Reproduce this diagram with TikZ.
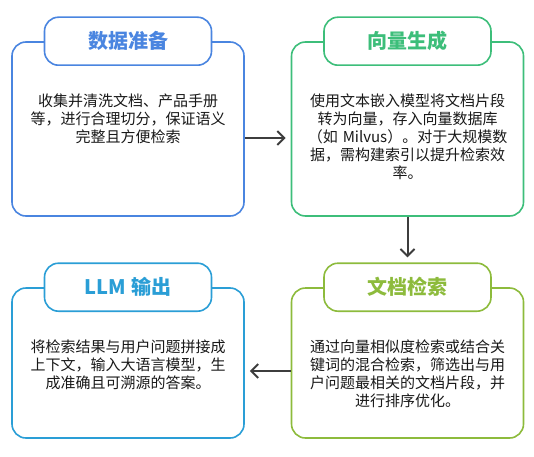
\documentclass[tikz,border=0pt]{standalone}
\usepackage{fontspec}
\setmainfont{Noto Sans CJK SC}
\usepackage{tikz}
\usetikzlibrary{arrows.meta}
\usetikzlibrary{positioning}

\definecolor{prepblue}{HTML}{4A85E0}
\definecolor{vecgreen}{HTML}{3DBE7A}
\definecolor{retolive}{HTML}{8DBB3C}
\definecolor{llmcyan}{HTML}{2A9ED6}
\definecolor{arrowgray}{HTML}{3D3D3D}

\tikzset{
  card/.style={draw=#1, line width=1.6pt, rounded corners=14pt, minimum width=232pt, fill=white},
  tab/.style={draw=#1, line width=1.6pt, rounded corners=14pt, minimum width=167pt, minimum height=48pt,
    fill=white, text=#1, font=\fontsize{20}{24}\selectfont\bfseries},
  body/.style={text width=200pt, align=center, inner sep=0pt, text=black!90,
    font=\fontsize{15}{18}\selectfont},
  flow/.style={draw=arrowgray, line width=2pt, -{Straight Barb[length=7pt,width=14pt]}, shorten >=5pt}
}

\begin{document}
\begin{tikzpicture}[x=1pt,y=1pt]
                \useasboundingbox (0,0) rectangle (534,456);
                \node[card=prepblue, minimum height=174pt] (prep) at (128,327) {};
                \node[tab=prepblue] (prepT) at (prep.north) {数据准备};
                \node[body, below=28pt of prepT] (prepB) {收集并清洗文档、产品手册\\等，进行合理切分，保证语义\\完整且方便检索};
                \node[card=vecgreen, minimum height=174pt] (vec) at (407.5,327) {};
                \node[tab=vecgreen] (vecT) at (vec.north) {向量生成};
                \node[body, below=28pt of vecT] (vecB) {使用文本嵌入模型将文档片段\\转为向量，存入向量数据库\\（如 Milvus）。对于大规模数\\据，需构建索引以提升检索效\\率。};
                \node[card=retolive, minimum height=150pt] (ret) at (407.5,93) {};
                \node[tab=retolive] (retT) at (ret.north) {文档检索};
                \node[body, below=28pt of retT] (retB) {通过向量相似度检索或结合关\\键词的混合检索，筛选出与用\\户问题最相关的文档片段，并\\进行排序优化。};
                \node[card=llmcyan, minimum height=150pt] (llm) at (128,93) {};
                \node[tab=llmcyan] (llmT) at (llm.north) {LLM 输出};
                \node[body, below=28pt of llmT] (llmB) {将检索结果与用户问题拼接成\\上下文，输入大语言模型，生\\成准确且可溯源的答案。};
                \draw[flow] ([yshift=-9pt]prep.east) -- ([yshift=-9pt]vec.west);
                \draw[flow] (vec.south) -- (retT.north);
                \draw[flow] ([yshift=-8pt]ret.west) -- ([yshift=-8pt]llm.east);
            \end{tikzpicture}
\end{document}
